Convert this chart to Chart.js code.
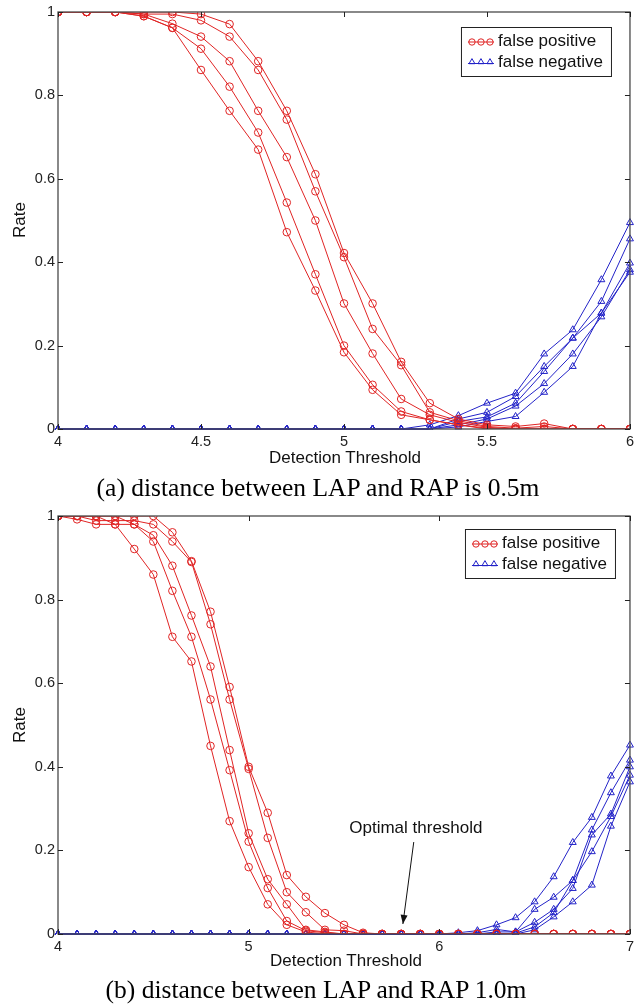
<!DOCTYPE html>
<html><head><meta charset="utf-8">
<script src="https://cdn.jsdelivr.net/npm/chart.js@4.4.1/dist/chart.umd.min.js"></script>
<style>
body{margin:0;background:#fff;width:638px;height:1005px;position:relative;overflow:hidden;font-family:"Liberation Sans",Arial,sans-serif;}
canvas{position:absolute;left:0;}
.lbl{position:absolute;font-size:17px;color:#111;white-space:nowrap;transform:translate(-50%,-50%);}
.rate{transform:translate(-50%,-50%) rotate(-90deg);}
.cap{position:absolute;font-family:"Liberation Serif","Times New Roman",serif;font-size:25.5px;color:#000;white-space:nowrap;transform:translate(-50%,-50%);}
</style></head><body>
<canvas id="ca" width="638" height="452" style="top:0"></canvas>
<canvas id="cb" width="638" height="452" style="top:504px"></canvas>
<div class="lbl" style="left:345px;top:458px">Detection Threshold</div>
<div class="lbl rate" style="left:20px;top:220px">Rate</div>
<div class="cap" style="left:318px;top:488px">(a) distance between LAP and RAP is 0.5m</div>
<div class="lbl" style="left:346px;top:961px">Detection Threshold</div>
<div class="lbl rate" style="left:20px;top:725px">Rate</div>
<div class="cap" style="left:316px;top:990px">(b) distance between LAP and RAP 1.0m</div>
<script>
// ---------- Panel (a): distance 0.5m ----------
const xsA = [4.0,4.1,4.2,4.3,4.4,4.5,4.6,4.7,4.8,4.9,5.0,5.1,5.2,5.3,5.4,5.5,5.6,5.7,5.8,5.9,6.0];
const fpA1 = [1,1,1,1,1,0.995,0.971,0.882,0.763,0.611,0.422,0.301,0.161,0.062,0.024,0.010,0.006,0.013,0,0,0];
const fpA2 = [1,1,1,0.995,0.995,0.98,0.941,0.861,0.742,0.570,0.412,0.240,0.153,0.040,0.020,0.006,0.002,0.006,0,0,0];
const fpA3 = [1,1,1,0.995,0.972,0.941,0.882,0.763,0.652,0.500,0.301,0.181,0.072,0.034,0.016,0.004,0,0,0,0,0];
const fpA4 = [1,1,1,0.99,0.962,0.912,0.821,0.711,0.543,0.371,0.200,0.106,0.042,0.022,0.010,0.002,0,0,0,0,0];
const fpA5 = [1,1,1,0.99,0.962,0.861,0.763,0.670,0.472,0.332,0.184,0.094,0.034,0.022,0.010,0,0,0,0,0,0];
const fnA1 = [0,0,0,0,0,0,0,0,0,0,0,0,0,0.010,0.032,0.062,0.086,0.180,0.238,0.358,0.495];
const fnA2 = [0,0,0,0,0,0,0,0,0,0,0,0,0,0,0.024,0.040,0.078,0.150,0.218,0.306,0.456];
const fnA3 = [0,0,0,0,0,0,0,0,0,0,0,0,0,0,0.018,0.029,0.062,0.138,0.218,0.278,0.398];
const fnA4 = [0,0,0,0,0,0,0,0,0,0,0,0,0,0,0.010,0.024,0.055,0.109,0.180,0.269,0.382];
const fnA5 = [0,0,0,0,0,0,0,0,0,0,0,0,0,0,0.005,0.018,0.030,0.088,0.150,0.278,0.376];
const xTicksA = [4,4.5,5,5.5,6];

// ---------- Panel (b): distance 1.0m ----------
const xsB = [4.0,4.1,4.2,4.3,4.4,4.5,4.6,4.7,4.8,4.9,5.0,5.1,5.2,5.3,5.4,5.5,5.6,5.7,5.8,5.9,6.0,6.1,6.2,6.3,6.4,6.5,6.6,6.7,6.8,6.9,7.0];
const fpB1 = [1,1,1,1,1,1,0.961,0.892,0.771,0.591,0.400,0.290,0.141,0.089,0.050,0.022,0.003,0,0,0,0,0,0,0,0,0,0,0,0,0,0];
const fpB2 = [1,1,0.989,0.989,0.989,0.98,0.939,0.890,0.741,0.561,0.395,0.230,0.100,0.052,0.010,0.008,0,0,0,0,0,0,0,0,0,0,0,0,0,0,0];
const fpB3 = [1,1,1,1,0.98,0.954,0.881,0.762,0.640,0.440,0.241,0.131,0.071,0.010,0.005,0,0,0,0,0,0,0,0,0,0,0,0,0,0,0,0];
const fpB4 = [1,0.992,0.98,0.98,0.98,0.939,0.821,0.711,0.561,0.392,0.221,0.110,0.031,0.008,0.003,0,0,0,0,0,0,0,0,0,0,0,0,0,0,0,0];
const fpB5 = [1,1,1,0.98,0.921,0.860,0.711,0.652,0.450,0.270,0.160,0.071,0.022,0.005,0,0,0,0,0,0,0,0,0,0,0,0,0,0,0,0,0];
const fnB1 = [0,0,0,0,0,0,0,0,0,0,0,0,0,0,0,0,0,0,0,0,0,0.003,0.008,0.022,0.039,0.077,0.137,0.219,0.279,0.378,0.452];
const fnB2 = [0,0,0,0,0,0,0,0,0,0,0,0,0,0,0,0,0,0,0,0,0,0,0.003,0.011,0.005,0.059,0.088,0.128,0.249,0.338,0.416];
const fnB3 = [0,0,0,0,0,0,0,0,0,0,0,0,0,0,0,0,0,0,0,0,0,0,0,0.005,0.005,0.028,0.059,0.109,0.237,0.287,0.400];
const fnB4 = [0,0,0,0,0,0,0,0,0,0,0,0,0,0,0,0,0,0,0,0,0,0,0,0,0.002,0.017,0.051,0.128,0.197,0.281,0.380];
const fnB5 = [0,0,0,0,0,0,0,0,0,0,0,0,0,0,0,0,0,0,0,0,0,0,0,0,0,0.010,0.041,0.077,0.117,0.258,0.364];
const xTicksB = [4,5,6,7];

const yTicks = [0,0.2,0.4,0.6,0.8,1];
const legendLabels = ['false positive','false negative'];
// annotation (panel b): arrow tail -> tip, label position (data coordinates)
const annotText = 'Optimal threshold';
const annotArrowX = [5.866, 5.809];
const annotArrowY = [0.220, 0.024];
const annotTextXY = [5.877, 0.254];

const RED = '#e02424';
const BLUE = '#2323c8';

function pts(xs, ys){ return xs.map((x,i)=>({x:x, y:ys[i]})); }

function redDs(xs, ys){
  return {data: pts(xs,ys), borderColor: RED, borderWidth: 1, pointStyle:'circle', pointRadius:3.8,
    pointBorderColor: RED, pointBackgroundColor:'rgba(0,0,0,0)', pointBorderWidth:1, tension:0, fill:false};
}
function blueDs(xs, ys){
  return {data: pts(xs,ys), borderColor: BLUE, borderWidth: 1, pointStyle:'triangle', pointRadius:4,
    pointBorderColor: BLUE, pointBackgroundColor:'rgba(0,0,0,0)', pointBorderWidth:1, tension:0, fill:false,
    clip:{left:6, top:6, right:6, bottom:1}};
}

function drawTri(ctx, x, y, r){
  ctx.beginPath();
  ctx.moveTo(x, y - r);
  ctx.lineTo(x + r*0.866, y + r*0.5);
  ctx.lineTo(x - r*0.866, y + r*0.5);
  ctx.closePath();
  ctx.stroke();
}

const framePlugin = {
  id:'frame',
  afterDraw(chart, args, opts){
    const ctx = chart.ctx, a = chart.chartArea;
    const xs = chart.scales.x, ys = chart.scales.y;
    ctx.save();
    // box
    ctx.strokeStyle = '#4a4a4a';
    ctx.lineWidth = 1.3;
    ctx.strokeRect(a.left, a.top, a.right - a.left, a.bottom - a.top);
    // inward ticks
    ctx.lineWidth = 1;
    ctx.strokeStyle = '#222';
    ctx.beginPath();
    xs.ticks.forEach(t => {
      const p = Math.round(xs.getPixelForValue(t.value)) + 0.5;
      ctx.moveTo(p, a.bottom); ctx.lineTo(p, a.bottom - 5);
      ctx.moveTo(p, a.top); ctx.lineTo(p, a.top + 5);
    });
    ys.ticks.forEach(t => {
      const p = Math.round(ys.getPixelForValue(t.value)) + 0.5;
      ctx.moveTo(a.left, p); ctx.lineTo(a.left + 5, p);
      ctx.moveTo(a.right, p); ctx.lineTo(a.right - 5, p);
    });
    ctx.stroke();

    // legend
    const L = a.right - opts.legRight, T = a.top + opts.legTop, W = 150, H = 49;
    ctx.fillStyle = '#fff';
    ctx.fillRect(L, T, W, H);
    ctx.strokeStyle = '#222';
    ctx.lineWidth = 1;
    ctx.strokeRect(L + 0.5, T + 0.5, W, H);
    ctx.font = '17px "Liberation Sans", Arial, sans-serif';
    ctx.fillStyle = '#111';
    ctx.textBaseline = 'middle';
    ctx.textAlign = 'left';
    const rows = [T + 14.5, T + 35];
    ctx.fillText(legendLabels[0], L + 37, rows[0]);
    ctx.fillText(legendLabels[1], L + 37, rows[1]);
    // samples
    ctx.strokeStyle = RED;
    ctx.beginPath(); ctx.moveTo(L + 7, rows[0] + 0.5); ctx.lineTo(L + 33, rows[0] + 0.5); ctx.stroke();
    [L + 11, L + 20, L + 29].forEach(cx => { ctx.beginPath(); ctx.arc(cx, rows[0] + 0.5, 3.2, 0, Math.PI*2); ctx.stroke(); });
    ctx.strokeStyle = BLUE;
    ctx.beginPath(); ctx.moveTo(L + 7, rows[1] + 1.5); ctx.lineTo(L + 33, rows[1] + 1.5); ctx.stroke();
    [L + 11, L + 20, L + 29].forEach(cx => drawTri(ctx, cx, rows[1], 3.4));

    // annotation
    if (opts.annot) {
      const x0 = xs.getPixelForValue(annotArrowX[0]), y0 = ys.getPixelForValue(annotArrowY[0]);
      const x1 = xs.getPixelForValue(annotArrowX[1]), y1 = ys.getPixelForValue(annotArrowY[1]);
      ctx.strokeStyle = '#111'; ctx.fillStyle = '#111'; ctx.lineWidth = 1;
      ctx.beginPath(); ctx.moveTo(x0, y0); ctx.lineTo(x1, y1); ctx.stroke();
      const ang = Math.atan2(y1 - y0, x1 - x0);
      const hl = 9, hw = 3.5;
      ctx.beginPath();
      ctx.moveTo(x1, y1);
      ctx.lineTo(x1 - hl*Math.cos(ang) + hw*Math.sin(ang), y1 - hl*Math.sin(ang) - hw*Math.cos(ang));
      ctx.lineTo(x1 - hl*Math.cos(ang) - hw*Math.sin(ang), y1 - hl*Math.sin(ang) + hw*Math.cos(ang));
      ctx.closePath(); ctx.fill();
      ctx.textAlign = 'center';
      ctx.fillText(annotText, xs.getPixelForValue(annotTextXY[0]), ys.getPixelForValue(annotTextXY[1]));
    }
    ctx.restore();
  }
};

function makeChart(id, xs, reds, blues, xmin, xmax, xTicks, xAxisH, legRight, legTop, annot){
  const datasets = reds.map(r => redDs(xs, r)).concat(blues.map(b => blueDs(xs, b)));
  return new Chart(document.getElementById(id), {
    type:'line',
    data:{datasets},
    options:{
      responsive:false, animation:false, events:[],
      layout:{padding:{top:12, right:6, left:0, bottom:0}},
      plugins:{legend:{display:false}, tooltip:{enabled:false}, title:{display:false},
        frame:{legRight, legTop, annot}},
      scales:{
        x:{type:'linear', min:xmin, max:xmax,
          afterBuildTicks: s => { s.ticks = xTicks.map(v => ({value:v})); },
          afterFit: s => { s.height = xAxisH; },
          grid:{display:false, drawTicks:false}, border:{display:false},
          ticks:{padding:4, color:'#222', font:{family:'"Liberation Sans", Arial, sans-serif', size:14.5},
            maxRotation:0, autoSkip:false, callback: v => String(v)}},
        y:{type:'linear', min:0, max:1,
          afterBuildTicks: s => { s.ticks = yTicks.map(v => ({value:v})); },
          afterFit: s => { s.width = 58; },
          grid:{display:false, drawTicks:false}, border:{display:false},
          ticks:{padding:3, color:'#222', font:{family:'"Liberation Sans", Arial, sans-serif', size:14.5},
            callback: v => String(v)}}
      }
    },
    plugins:[framePlugin]
  });
}

makeChart('ca', xsA, [fpA1,fpA2,fpA3,fpA4,fpA5], [fnA1,fnA2,fnA3,fnA4,fnA5], 4, 6, xTicksA, 23, 169, 15, false);
makeChart('cb', xsB, [fpB1,fpB2,fpB3,fpB4,fpB5], [fnB1,fnB2,fnB3,fnB4,fnB5], 4, 7, xTicksB, 22, 165, 13, true);
</script>
</body></html>
